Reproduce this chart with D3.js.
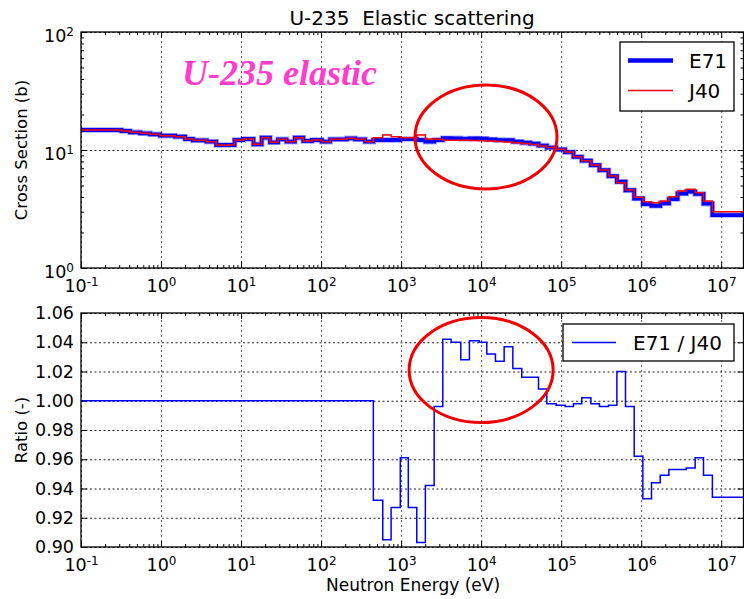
<!DOCTYPE html>
<html>
<head>
<meta charset="utf-8">
<script src="https://cdn.jsdelivr.net/npm/d3@7"></script>
<style>
  body { margin: 0; background: #fff; }
  svg { display: block; }
  text { font-family: "DejaVu Sans", sans-serif; fill: #000; }
</style>
</head>
<body>
<svg id="chart" width="744" height="599"></svg>
<script>
// group boundaries (eV)
var edges = [0.1, 0.32, 0.41, 0.55, 0.73, 0.97, 1.5, 2.0, 2.5, 3.7, 4.9, 8.3, 10.6, 14.3, 18.1, 23, 29, 37, 47, 60,
  77, 102, 130, 210, 266, 355, 450, 590, 750, 977, 1230, 1570, 2010, 2590, 3320, 4220, 5570, 7140, 9440, 11770,
  15100, 19400, 24900, 32200, 41000, 52100, 66200, 86600, 112000, 142600, 181000, 235000, 301000, 391000, 497000,
  637000, 818000, 1050000, 1346000, 1730000, 2220000, 2850000, 3650000, 4730000, 6010000, 7760000, 19000000];

// cross sections (b)
var j40 = [14.77, 14.49, 14.13, 13.85, 13.59, 13.22, 12.96, 12.39, 12.08, 11.76, 11.02, 12.15, 12.39, 11.18, 12.71,
  11.62, 12.32, 11.76, 12.71, 11.92, 12.15, 11.76, 12.32, 12.56, 12.32, 11.76, 12.71, 13.40, 12.96, 12.71, 12.71,
  13.40, 12.39, 12.32, 12.08, 12.08, 12.08, 12.04, 11.99, 11.92, 11.80, 11.69, 11.51, 11.35, 11.13, 10.81, 10.50,
  10.14, 9.62, 8.77, 8.11, 7.46, 6.77, 6.02, 5.28, 4.58, 3.97, 3.65, 3.58, 3.70, 4.02, 4.49, 4.64, 4.35, 3.70, 3.00];
var e71 = [14.77, 14.49, 14.13, 13.85, 13.59, 13.22, 12.96, 12.39, 12.08, 11.76, 11.02, 12.15, 12.39, 11.18, 12.71,
  11.62, 12.32, 11.76, 12.71, 11.92, 12.15, 11.76, 12.32, 12.56, 12.32, 11.76, 12.15, 12.15, 12.15, 12.39, 12.39,
  12.15, 11.76, 12.15, 12.59, 12.56, 12.44, 12.52, 12.47, 12.30, 12.13, 12.11, 11.76, 11.53, 11.31, 10.90, 10.48,
  10.10, 9.58, 8.75, 8.12, 7.44, 6.74, 6.00, 5.38, 4.56, 3.88, 3.48, 3.37, 3.53, 3.84, 4.28, 4.43, 4.24, 3.51, 2.81];

// E71 / J40
var ratio = [1, 1, 1, 1, 1, 1, 1, 1, 1, 1, 1, 1, 1, 1, 1, 1, 1, 1, 1, 1, 1, 1, 1, 1, 1, 1,
  0.932, 0.905, 0.927, 0.961, 0.927, 0.903, 0.942, 0.996, 1.042, 1.040, 1.028, 1.041, 1.040, 1.032, 1.027,
  1.037, 1.022, 1.016, 1.016, 1.008, 0.998, 0.997, 0.996, 0.998, 1.002, 0.998, 0.996, 0.997, 1.020, 0.996,
  0.962, 0.933, 0.944, 0.949, 0.953, 0.953, 0.954, 0.961, 0.949, 0.934];

var decades = [-1, 0, 1, 2, 3, 4, 5, 6, 7];
var xsDecades = [0, 1, 2];
var ratioTicks = [0.90, 0.92, 0.94, 0.96, 0.98, 1.00, 1.02, 1.04, 1.06];

var svg = d3.select('#chart');
var L = 81, R = 743.5;
var top1 = 32, bot1 = 268, top2 = 313, bot2 = 547;

var x = d3.scaleLog().domain([0.1, 1.9e7]).range([L, R]);
var yXs = d3.scaleLog().domain([1, 100]).range([bot1, top1]);
var yR = d3.scaleLinear().domain([0.90, 1.06]).range([bot2, top2]);

var xMajor = decades.map(function(d) { return Math.pow(10, d); });
var xMinor = [];
decades.forEach(function(d) {
  for (var k = 2; k < 10; k++) {
    var v = k * Math.pow(10, d);
    if (v < 1.9e7) xMinor.push(v);
  }
});
var yMajor = xsDecades.map(function(d) { return Math.pow(10, d); });
var yMinor = [];
[0, 1].forEach(function(d) { for (var k = 2; k < 10; k++) yMinor.push(k * Math.pow(10, d)); });

function supLabels(sel, exps) {
  sel.selectAll('.tick text').each(function(d, i) {
    var t = d3.select(this);
    t.text('');
    t.append('tspan').text('10');
    var e = exps[i];
    t.append('tspan').attr('dy', '-0.55em').attr('font-size', '12px').text(e < 0 ? '-' + (-e) : e);
  });
}

function cleanAxis(g) {
  g.select('.domain').remove();
  g.selectAll('.tick line').attr('stroke', '#000').attr('stroke-width', 1);
}

function panel(yScale, yTop, yBot, isLog) {
  var g = svg.append('g');
  var h = yBot - yTop;
  // grid
  g.append('g').attr('transform', 'translate(0,' + yBot + ')')
    .call(d3.axisBottom(x).tickValues(xMajor).tickSize(-h).tickFormat(''))
    .call(function(a) { a.select('.domain').remove(); })
    .selectAll('.tick line').attr('stroke', '#555').attr('stroke-dasharray', '2,3').attr('stroke-width', 1);
  var hGrid = isLog ? yMajor : ratioTicks;
  g.append('g').attr('transform', 'translate(' + L + ',0)')
    .call(d3.axisLeft(yScale).tickValues(hGrid).tickSize(-(R - L)).tickFormat(''))
    .call(function(a) { a.select('.domain').remove(); })
    .selectAll('.tick line').attr('stroke', '#222').attr('stroke-dasharray', '2,2.5').attr('stroke-width', 1);

  // x ticks bottom with labels
  var xb = g.append('g').attr('transform', 'translate(0,' + yBot + ')')
    .call(d3.axisBottom(x).tickValues(xMajor).tickSize(-6).tickPadding(12))
    .call(cleanAxis);
  xb.selectAll('.tick text').attr('font-size', '17.5px');
  supLabels(xb, decades);
  g.append('g').attr('transform', 'translate(0,' + yBot + ')')
    .call(d3.axisBottom(x).tickValues(xMinor).tickSize(-3).tickFormat('')).call(cleanAxis);
  g.append('g').attr('transform', 'translate(0,' + yTop + ')')
    .call(d3.axisTop(x).tickValues(xMajor).tickSize(-6).tickFormat('')).call(cleanAxis);
  g.append('g').attr('transform', 'translate(0,' + yTop + ')')
    .call(d3.axisTop(x).tickValues(xMinor).tickSize(-3).tickFormat('')).call(cleanAxis);

  // y ticks
  if (isLog) {
    var yl = g.append('g').attr('transform', 'translate(' + L + ',0)')
      .call(d3.axisLeft(yScale).tickValues(yMajor).tickSize(-6).tickPadding(7))
      .call(cleanAxis);
    yl.selectAll('.tick text').attr('font-size', '17.5px').attr('dy', '0.55em');
    supLabels(yl, xsDecades);
    g.append('g').attr('transform', 'translate(' + L + ',0)')
      .call(d3.axisLeft(yScale).tickValues(yMinor).tickSize(-3).tickFormat('')).call(cleanAxis);
    g.append('g').attr('transform', 'translate(' + R + ',0)')
      .call(d3.axisRight(yScale).tickValues(yMajor).tickSize(-6).tickFormat('')).call(cleanAxis);
    g.append('g').attr('transform', 'translate(' + R + ',0)')
      .call(d3.axisRight(yScale).tickValues(yMinor).tickSize(-3).tickFormat('')).call(cleanAxis);
  } else {
    var yl2 = g.append('g').attr('transform', 'translate(' + L + ',0)')
      .call(d3.axisLeft(yScale).tickValues(ratioTicks).tickSize(-6).tickPadding(7).tickFormat(d3.format('.2f')))
      .call(cleanAxis);
    yl2.selectAll('.tick text').attr('font-size', '17.5px');
    g.append('g').attr('transform', 'translate(' + R + ',0)')
      .call(d3.axisRight(yScale).tickValues(ratioTicks).tickSize(-6).tickFormat('')).call(cleanAxis);
  }
  return g;
}

var defs = svg.append('defs');
defs.append('clipPath').attr('id', 'clip1').append('rect')
  .attr('x', L).attr('y', top1).attr('width', R - L).attr('height', bot1 - top1);
defs.append('clipPath').attr('id', 'clip2').append('rect')
  .attr('x', L).attr('y', top2).attr('width', R - L).attr('height', bot2 - top2);

panel(yXs, top1, bot1, true);
panel(yR, top2, bot2, false);

function steps(vals) {
  var pts = vals.map(function(v, i) { return [edges[i], v]; });
  pts.push([edges[edges.length - 1], vals[vals.length - 1]]);
  return pts;
}

var lineXs = d3.line().x(function(d) { return x(d[0]); }).y(function(d) { return yXs(d[1]); }).curve(d3.curveStepAfter);
var lineR = d3.line().x(function(d) { return x(d[0]); }).y(function(d) { return yR(d[1]); }).curve(d3.curveStepAfter);

var p1 = svg.append('g').attr('clip-path', 'url(#clip1)');
p1.append('path').attr('d', lineXs(steps(e71))).attr('fill', 'none')
  .attr('stroke', 'rgb(0,0,255)').attr('stroke-opacity', 0.35).attr('stroke-width', 5.5);
p1.append('path').attr('d', lineXs(steps(e71))).attr('fill', 'none')
  .attr('stroke', 'rgb(0,0,255)').attr('stroke-width', 3.8);
p1.append('path').attr('d', lineXs(steps(j40))).attr('fill', 'none')
  .attr('stroke', 'rgb(255,0,0)').attr('stroke-width', 1.5);

var p2 = svg.append('g').attr('clip-path', 'url(#clip2)');
p2.append('path').attr('d', lineR(steps(ratio))).attr('fill', 'none')
  .attr('stroke', 'rgb(0,0,255)').attr('stroke-width', 1.5);

// frames
svg.append('rect').attr('x', L).attr('y', top1).attr('width', R - L).attr('height', bot1 - top1)
  .attr('fill', 'none').attr('stroke', '#000').attr('stroke-width', 1.3);
svg.append('rect').attr('x', L).attr('y', top2).attr('width', R - L).attr('height', bot2 - top2)
  .attr('fill', 'none').attr('stroke', '#000').attr('stroke-width', 1.3);

// highlight ellipses
svg.append('ellipse').attr('cx', x(1.15e4)).attr('cy', yXs(12.9)).attr('rx', 71).attr('ry', 52)
  .attr('fill', 'none').attr('stroke', 'rgb(240,0,0)').attr('stroke-width', 3);
svg.append('ellipse').attr('cx', x(1.0e4)).attr('cy', yR(1.021)).attr('rx', 72).attr('ry', 52.5)
  .attr('fill', 'none').attr('stroke', 'rgb(240,0,0)').attr('stroke-width', 3);

// annotation
svg.append('text').attr('x', 182).attr('y', 85)
  .style('font-family', '"Liberation Serif", "DejaVu Serif", serif')
  .attr('font-size', '36px').attr('font-weight', 'bold').attr('font-style', 'italic')
  .style('fill', '#ff3ccc').text('U-235 elastic');

// legends
var lg1 = svg.append('g');
lg1.append('rect').attr('x', 620).attr('y', 42).attr('width', 114).attr('height', 69)
  .attr('fill', '#fff').attr('stroke', '#000').attr('stroke-width', 1.3);
lg1.append('line').attr('x1', 628).attr('x2', 673).attr('y1', 60.5).attr('y2', 60.5)
  .attr('stroke', 'rgb(0,0,255)').attr('stroke-width', 4.5);
lg1.append('line').attr('x1', 628).attr('x2', 673).attr('y1', 90.5).attr('y2', 90.5)
  .attr('stroke', 'rgb(255,0,0)').attr('stroke-width', 1.5);
lg1.append('text').attr('x', 689).attr('y', 68).attr('font-size', '20px').text('E71');
lg1.append('text').attr('x', 689).attr('y', 98).attr('font-size', '20px').text('J40');

var lg2 = svg.append('g');
lg2.append('rect').attr('x', 563).attr('y', 324).attr('width', 171).attr('height', 37)
  .attr('fill', '#fff').attr('stroke', '#000').attr('stroke-width', 1.3);
lg2.append('line').attr('x1', 572).attr('x2', 616).attr('y1', 342.5).attr('y2', 342.5)
  .attr('stroke', 'rgb(0,0,255)').attr('stroke-width', 1.5);
lg2.append('text').attr('x', 633).attr('y', 350).attr('font-size', '20px').text('E71 / J40');

// titles and axis labels
svg.append('text').attr('x', 412).attr('y', 25).attr('text-anchor', 'middle').attr('font-size', '20px')
  .style('white-space', 'pre').text('U-235  Elastic scattering');
svg.append('text').attr('x', 413).attr('y', 591).attr('text-anchor', 'middle').attr('font-size', '17px')
  .text('Neutron Energy (eV)');
svg.append('text').attr('transform', 'translate(27,150) rotate(-90)').attr('text-anchor', 'middle')
  .attr('font-size', '16.5px').text('Cross Section (b)');
svg.append('text').attr('transform', 'translate(27,430) rotate(-90)').attr('text-anchor', 'middle')
  .attr('font-size', '16.5px').text('Ratio (-)');
</script>
</body>
</html>
